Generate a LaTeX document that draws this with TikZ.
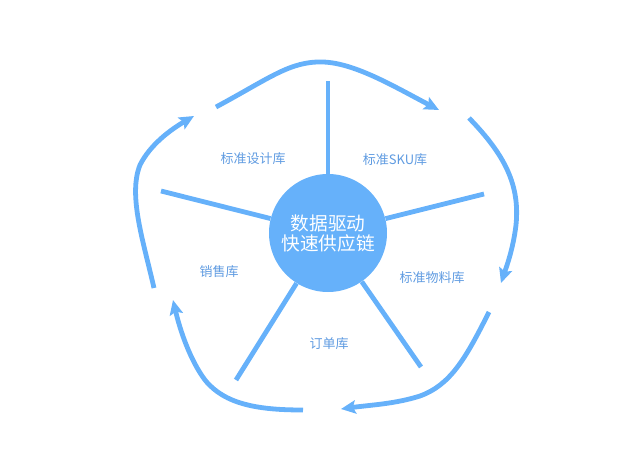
\documentclass[tikz,border=0pt]{standalone}
\usepackage{fontspec}
\newfontfamily\cjk{Noto Sans CJK SC}
\usetikzlibrary{arrows.meta}
\definecolor{azul}{RGB}{102,177,250}
\definecolor{azultexto}{RGB}{95,155,225}
\tikzset{
  radio/.style={line width=3.6pt, draw=azul},
  flecha/.style={line width=3.6pt, draw=azul, -{Stealth[length=11pt,width=10pt,inset=2pt,fill=azul]}},
  etiqueta/.style={font=\cjk\fontsize{9.75}{12}\selectfont, text=azultexto},
}
\begin{document}
\begin{tikzpicture}[x=0.75pt, y=-0.75pt]
    \useasboundingbox (0,0) rectangle (640,468);

    % Dibujar el circulo central
    \node[circle, fill=azul, minimum size=88.5pt, inner sep=0pt, text=white, align=center,
          font=\cjk\fontsize{14}{15}\selectfont] (hub) at (328,233) {数据驱动\\快速供应链};

    % Dibujar los radios
    \foreach \nombre/\x/\y in {norte/328/81, este/484/194, sureste/421/367, suroeste/236/380, oeste/161/191} {
        \coordinate (\nombre) at (\x,\y);
        \draw[radio] (hub) -- (\nombre);
    }

    % Dibujar las flechas del ciclo
    \draw[flecha] (216,107) .. controls (270,78) and (290,61) .. (323,62) .. controls (355,63) and (395,87) .. (439,110); % arriba
    \draw[flecha] (469,118) .. controls (505,155) and (520,185) .. (516,225) .. controls (513,250) and (506,268) .. (501,283); % derecha
    \draw[flecha] (489,312) .. controls (465,360) and (450,385) .. (420,396) .. controls (395,404) and (370,405) .. (341,409); % abajo derecha
    \draw[flecha] (303,410) .. controls (260,410) and (225,405) .. (205,380) .. controls (190,360) and (180,330) .. (173,300); % abajo izquierda
    \draw[flecha] (154,288) .. controls (143,240) and (128,195) .. (140,165) .. controls (150,145) and (170,130) .. (194,116); % izquierda

    % Etiquetas de las bases
    \node[etiqueta] (diseno) at (253,159) {标准设计库};
    \node[etiqueta] (sku) at (395,160) {标准SKU库};
    \node[etiqueta] (material) at (432,278) {标准物料库};
    \node[etiqueta] (pedido) at (329,344) {订单库};
    \node[etiqueta] (venta) at (219,272) {销售库};

\end{tikzpicture}
\end{document}
